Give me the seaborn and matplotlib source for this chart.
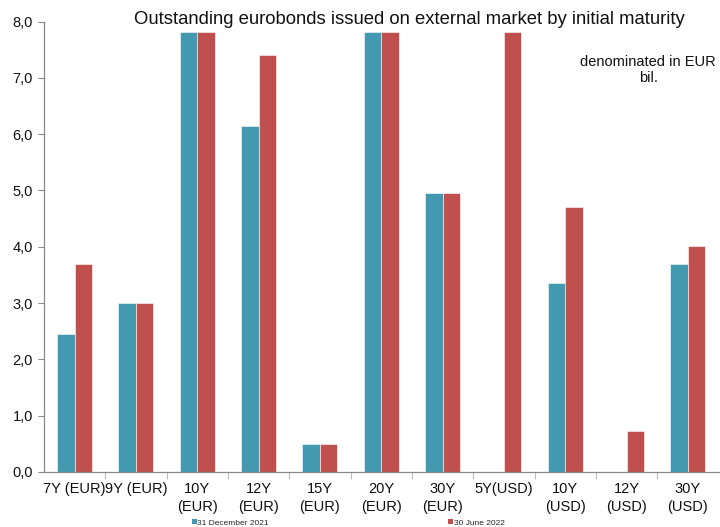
import matplotlib
matplotlib.use("Agg")
import matplotlib.pyplot as plt
from matplotlib.ticker import FuncFormatter, FixedLocator
from matplotlib.patches import Patch
import seaborn as sns
import pandas as pd

categories = ["7Y (EUR)", "9Y (EUR)", "10Y\n(EUR)", "12Y\n(EUR)", "15Y\n(EUR)",
              "20Y\n(EUR)", "30Y\n(EUR)", "5Y(USD)", "10Y\n(USD)", "12Y\n(USD)", "30Y\n(USD)"]
dec_2021 = [2.45, 3.0, 7.82, 6.15, 0.5, 7.82, 4.95, 0.0, 3.35, 0.0, 3.7]
jun_2022 = [3.7, 3.0, 7.82, 7.4, 0.5, 7.82, 4.95, 7.82, 4.7, 0.72, 4.02]
series_names = ["31 December 2021", "30 June 2022"]
colors = ["#4299B0", "#C0504D"]

df = pd.DataFrame({
    "cat": categories * 2,
    "value": dec_2021 + jun_2022,
    "series": [series_names[0]] * len(categories) + [series_names[1]] * len(categories),
})

sns.set_style("white")
plt.rcParams["font.family"] = ["Liberation Sans", "DejaVu Sans"]

fig = plt.figure(figsize=(7.2, 5.27), dpi=100)
ax = fig.add_axes([0.061, 0.1044, 0.937, 0.8548])

sns.barplot(data=df, x="cat", y="value", hue="series", palette=colors,
            width=0.57, gap=0, ax=ax, legend=False, saturation=1,
            edgecolor="white", linewidth=0.4)

ax.set_ylim(0, 8)
ax.set_xlim(-0.5, len(categories) - 0.5)
ax.set_yticks([0, 1, 2, 3, 4, 5, 6, 7, 8])
ax.yaxis.set_major_formatter(FuncFormatter(lambda v, p: f"{v:.1f}".replace(".", ",")))
ax.set_xlabel("")
ax.set_ylabel("")

for s in ["top", "right"]:
    ax.spines[s].set_visible(False)
for s in ["left", "bottom"]:
    ax.spines[s].set_color("#888888")
    ax.spines[s].set_linewidth(0.9)

ax.tick_params(axis="y", which="major", left=True, length=4, width=0.8,
               color="#888888", labelsize=10.5, pad=4, labelcolor="#111111")
ax.tick_params(axis="x", which="major", bottom=False, labelsize=10.5, pad=4,
               labelcolor="#111111")
for lbl in ax.get_xticklabels():
    lbl.set_linespacing(1.3)
ax.xaxis.set_minor_locator(FixedLocator([i + 0.5 for i in range(len(categories) - 1)]))
ax.tick_params(axis="x", which="minor", bottom=True, length=5, width=0.8,
               color="#bbbbbb", direction="out")

fig.text(0.568, 0.963, "Outstanding eurobonds issued on external market by initial maturity",
         ha="center", va="center", fontsize=13.3, color="#111111")
fig.text(0.9, 0.867, "denominated in EUR\nbil.", ha="center", va="center",
         fontsize=10.5, color="#111111", linespacing=1.15)

handles = [Patch(facecolor=c, edgecolor="none") for c in colors]
fig.legend(handles, series_names, loc="center left", bbox_to_anchor=(0.266, 0.008),
           ncol=2, frameon=False, fontsize=6, handlelength=0.6, handleheight=0.6,
           handletextpad=0.1, columnspacing=21.5, borderpad=0, borderaxespad=0)

fig.savefig("out.png", dpi=100)
